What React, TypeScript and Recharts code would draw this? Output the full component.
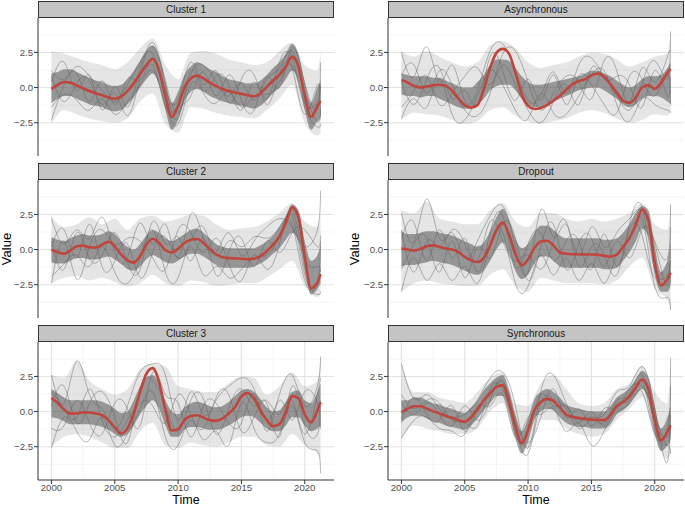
import {
  Area,
  CartesianGrid,
  ComposedChart,
  Line,
  XAxis,
  YAxis,
} from "recharts";

// sample times
const HALF_YEARS = [
  2000, 2000.5, 2001, 2001.5, 2002, 2002.5, 2003, 2003.5, 2004, 2004.5, 2005, 2005.5,
  2006, 2006.5, 2007, 2007.5, 2008, 2008.5, 2009, 2009.5, 2010, 2010.5, 2011, 2011.5,
  2012, 2012.5, 2013, 2013.5, 2014, 2014.5, 2015, 2015.5, 2016, 2016.5, 2017, 2017.5,
  2018, 2018.5, 2019, 2019.5, 2020, 2020.5, 2021, 2021.25,
];
const YEARS = [
  2000, 2001, 2002, 2003, 2004, 2005, 2006, 2007, 2008, 2009, 2010, 2011, 2012, 2013,
  2014, 2015, 2016, 2017, 2018, 2019, 2020, 2021, 2021.25,
];

const X_TICKS = [2000, 2005, 2010, 2015, 2020];
const X_MINOR = [2002.5, 2007.5, 2012.5, 2017.5];
const Y_TICKS = [-2.5, 0, 2.5];
const Y_MINOR = [-3.75, -1.25, 1.25, 3.75];

// Cluster 1
const c1Mean = [-0.1, 0.2, 0.4, 0.35, 0.15, -0.05, -0.25, -0.4, -0.55, -0.7, -0.8, -0.65, -0.25, 0.3, 0.95, 1.6, 2.05, 1.2, -0.6, -2.1, -1.3, 0.0, 0.65, 0.85, 0.65, 0.35, 0.1, -0.1, -0.25, -0.35, -0.45, -0.55, -0.62, -0.4, 0.05, 0.5, 0.9, 1.5, 2.2, 1.5, -0.6, -2.1, -1.3, -0.95];
const c1CoreLo = [-1.1, -0.8, -0.6, -0.6, -0.8, -1.0, -1.2, -1.3, -1.4, -1.6, -1.7, -1.6, -1.2, -0.7, 0.0, 0.6, 1.0, 0.2, -1.6, -3.0, -2.3, -1.0, -0.3, -0.1, -0.3, -0.6, -0.8, -1.0, -1.1, -1.2, -1.3, -1.4, -1.5, -1.3, -0.9, -0.4, 0.0, 0.6, 1.2, 0.5, -1.6, -3.0, -2.4, -2.2];
const c1CoreHi = [1.0, 1.1, 1.3, 1.3, 1.1, 0.9, 0.7, 0.5, 0.4, 0.2, 0.1, 0.2, 0.6, 1.2, 1.9, 2.6, 3.0, 2.2, 0.4, -1.1, -0.3, 0.9, 1.5, 1.8, 1.6, 1.3, 1.1, 0.8, 0.6, 0.5, 0.4, 0.3, 0.3, 0.5, 0.9, 1.4, 1.8, 2.4, 3.1, 2.4, 0.4, -1.1, 0.0, 0.5];
const c1SpreadLo = [-2.6, -1.6, -1.9, -2.2, -2.4, -2.5, -2.2, -1.0, -0.4, -2.6, -3.2, -1.4, -1.5, -1.8, -2.0, -2.1, -2.2, -1.6, -0.8, 0.2, -2.5, -3.4, -3.3];
const c1SpreadHi = [2.6, 2.4, 2.1, 1.8, 1.6, 1.3, 1.8, 2.8, 3.5, 1.6, 0.6, 2.5, 2.6, 2.4, 2.0, 1.8, 1.6, 1.8, 2.6, 3.2, 1.6, 1.2, 2.6];
const c1Traces = [
  [1.2, 0.6, 1.5, 0.8, -0.2, -1.0, 0.2, 1.8, 2.9, 0.5, -1.8, 0.9, 1.6, 0.4, -0.6, 0.3, -0.9, 0.6, 1.4, 2.6, -0.3, -2.4, -1.5],
  [-1.4, -0.5, -0.9, -1.6, -0.8, -1.9, -1.0, 0.2, 1.2, -1.2, -2.6, 0.2, -0.4, -1.1, -0.3, -1.4, -0.6, -0.5, 0.4, 1.6, -1.4, -2.8, -2.6],
  [0.4, 1.8, -0.2, 0.9, -1.6, 0.1, -1.4, 1.4, 2.4, -0.2, -0.9, 1.8, 0.2, 1.2, -1.1, 0.6, 0.9, -0.8, 1.8, 2.1, -1.1, -1.0, 0.2],
  [-2.3, 0.2, 1.0, -1.0, 0.5, -1.2, 0.6, 0.5, 1.6, -1.4, -1.4, -0.6, 1.1, -0.6, 0.9, -0.9, -1.6, 0.8, 0.0, 2.8, 0.3, -1.6, 1.8],
  [0.8, -1.0, 0.3, 0.5, -1.2, -0.4, -2.0, 0.8, 3.2, 0.2, -2.2, 1.2, -0.2, 0.8, 0.2, -1.6, 0.4, -1.2, 1.0, 1.4, -1.9, 0.2, -2.0],
];

// Asynchronous
const asMean = [0.55, 0.35, 0.12, 0.0, 0.07, 0.17, 0.2, 0.12, -0.23, -0.78, -1.25, -1.43, -1.25, -0.12, 1.4, 2.47, 2.75, 2.4, 1.06, -0.47, -1.3, -1.53, -1.46, -1.25, -0.94, -0.59, -0.16, 0.23, 0.47, 0.59, 0.87, 1.0, 0.78, 0.24, -0.35, -0.94, -1.1, -0.7, 0.0, 0.17, -0.1, 0.35, 1.06, 1.34];
const asCoreLo = [-0.5, -0.6, -0.6, -0.7, -0.6, -0.6, -0.8, -1.0, -1.2, -1.4, -1.5, -1.5, -1.2, -0.8, -0.2, 0.1, 0.2, 0.2, -0.2, -0.8, -1.2, -1.4, -1.4, -1.2, -1.0, -0.8, -0.6, -0.4, -0.2, -0.1, 0.0, 0.0, -0.2, -0.5, -0.8, -1.2, -1.4, -1.2, -0.8, -0.6, -0.6, -0.7, -1.0, -1.2];
const asCoreHi = [1.0, 0.9, 0.8, 0.8, 0.8, 0.7, 0.7, 0.5, 0.3, 0.1, 0.0, 0.0, 0.4, 0.9, 1.6, 2.0, 2.0, 1.9, 1.4, 0.8, 0.4, 0.2, 0.2, 0.3, 0.4, 0.5, 0.6, 0.7, 0.8, 1.0, 1.2, 1.2, 1.0, 0.8, 0.5, 0.2, 0.0, 0.2, 0.6, 0.8, 0.8, 0.9, 1.4, 1.8];
const asSpreadLo = [-2.3, -1.8, -1.9, -2.0, -2.3, -2.6, -2.4, -1.6, -1.4, -2.0, -2.4, -2.6, -2.4, -2.2, -1.8, -1.6, -1.8, -2.2, -2.5, -2.3, -1.9, -2.0, -1.8];
const asSpreadHi = [2.6, 2.2, 2.6, 2.2, 1.8, 1.5, 1.8, 3.0, 3.3, 2.8, 1.8, 1.4, 1.6, 1.8, 2.2, 2.5, 2.4, 2.0, 1.5, 1.8, 2.2, 2.4, 4.0];
const asTraces = [
  [2.5, 0.8, 2.9, 0.4, 1.6, -0.9, -0.2, 2.6, 3.1, 1.2, -0.9, -0.6, 1.1, -0.4, 1.6, 2.1, 0.8, -0.6, -1.6, 0.3, 1.9, 0.6, 4.0],
  [-2.2, -0.8, -1.4, 0.6, -1.9, -2.3, -0.6, 1.2, 0.2, -1.6, -2.2, -0.4, -1.8, -1.9, -0.6, 0.9, 1.2, -1.2, -2.4, -0.8, -1.2, -1.6, -1.8],
  [0.9, 1.6, -0.4, 1.2, 0.2, -1.6, -2.0, -0.4, 2.4, 2.6, 0.4, -1.6, -0.4, 0.8, 0.4, -0.8, 1.9, 1.2, -1.0, 1.4, 0.4, 2.2, 2.6],
  [-1.4, -0.2, 0.8, -1.2, -0.4, 0.8, 1.4, 0.2, 1.6, 0.2, -1.6, -2.5, -1.0, 0.2, -1.2, 1.4, 0.6, 0.8, 0.2, -1.4, 1.2, -0.6, 0.8],
  [0.4, -1.2, 0.6, 1.4, -0.8, -0.2, -1.2, 2.2, 1.2, -0.9, 0.6, -0.9, 0.9, -1.2, 0.8, 0.2, -1.2, -1.8, 0.8, 0.6, -0.6, 0.9, -1.2],
];

// Cluster 2
const c2Mean = [0.0, -0.19, -0.3, -0.05, 0.23, 0.28, 0.16, 0.14, 0.35, 0.56, 0.23, -0.35, -0.77, -0.93, -0.47, 0.35, 0.77, 0.47, -0.05, -0.2, 0.05, 0.47, 0.7, 0.75, 0.47, 0.05, -0.35, -0.54, -0.61, -0.63, -0.65, -0.68, -0.65, -0.47, -0.12, 0.35, 0.93, 1.87, 3.0, 2.3, -0.5, -2.75, -2.34, -1.75];
const c2CoreLo = [-0.9, -1.0, -1.0, -0.8, -0.6, -0.6, -0.7, -0.7, -0.6, -0.5, -0.7, -1.0, -1.4, -1.5, -1.2, -0.7, -0.4, -0.6, -0.9, -1.0, -0.8, -0.5, -0.3, -0.3, -0.5, -0.8, -1.1, -1.3, -1.3, -1.3, -1.3, -1.3, -1.2, -1.0, -0.7, -0.3, 0.1, 0.7, 1.2, 0.6, -1.6, -3.2, -2.8, -2.4];
const c2CoreHi = [0.9, 0.7, 0.6, 0.8, 1.0, 1.1, 1.0, 1.0, 1.1, 1.3, 1.1, 0.6, 0.2, 0.0, 0.4, 1.0, 1.4, 1.2, 0.8, 0.6, 0.8, 1.1, 1.4, 1.5, 1.2, 0.8, 0.4, 0.2, 0.1, 0.1, 0.1, 0.1, 0.1, 0.3, 0.6, 1.0, 1.6, 2.4, 3.2, 2.8, 0.6, -0.8, -0.4, 0.4];
const c2SpreadLo = [-2.4, -2.0, -1.9, -2.2, -2.0, -2.3, -2.6, -2.4, -1.8, -2.4, -2.6, -2.2, -2.3, -2.6, -2.5, -2.4, -2.4, -2.0, -1.4, -0.8, -2.6, -3.4, -3.2];
const c2SpreadHi = [2.4, 1.6, 1.8, 2.3, 1.8, 2.2, 1.4, 2.2, 2.4, 2.0, 2.2, 2.5, 2.4, 1.8, 1.4, 1.5, 1.6, 2.0, 2.6, 3.3, 2.0, 1.6, 2.4];
const c2Traces = [
  [2.2, 0.4, 1.4, 0.8, 2.3, -0.2, -0.6, 1.9, 0.4, 1.8, -0.6, 2.5, 0.8, -0.2, 1.2, -0.4, 0.6, 1.6, 2.2, 1.6, 0.2, 1.4, 4.2],
  [-1.9, -1.0, -0.4, -1.2, 0.2, -1.6, -2.4, -0.6, 1.4, -1.6, -2.0, 0.2, -1.8, -1.2, -2.0, -1.4, -0.6, -0.4, 1.0, 2.4, -1.8, -3.2, -3.0],
  [0.6, -1.4, 1.2, -0.6, -0.4, 1.2, -0.9, -1.4, 2.0, 0.4, 0.9, -0.8, 0.8, -1.8, -0.2, 0.8, -1.2, 0.6, -0.2, 1.2, 1.4, 0.2, 1.0],
  [-2.4, 0.6, -2.1, 0.2, 1.4, 0.4, 0.8, 0.6, -0.6, -1.4, 1.4, 1.2, -0.2, 0.8, -1.0, -2.2, -0.4, -1.4, 0.4, 2.8, -0.6, -1.2, -1.6],
  [0.2, 1.4, -0.6, 1.8, -1.2, -0.8, 0.4, -2.0, -0.2, 0.9, -0.6, 0.6, 1.6, -0.4, 0.6, 0.2, 0.9, 0.8, 1.6, 1.8, -2.2, -2.4, 0.6],
];

// Dropout
const drMean = [0.07, 0.0, -0.07, 0.05, 0.23, 0.3, 0.19, 0.07, 0.0, -0.19, -0.51, -0.77, -0.89, -0.58, 0.28, 1.36, 1.92, 1.05, -0.35, -1.12, -0.7, 0.12, 0.58, 0.63, 0.28, -0.19, -0.3, -0.33, -0.33, -0.35, -0.35, -0.37, -0.44, -0.51, -0.35, 0.19, 0.82, 1.75, 2.85, 2.1, -0.93, -2.55, -2.1, -1.64];
const drCoreLo = [-1.2, -1.1, -1.1, -1.0, -0.9, -0.8, -0.9, -1.0, -1.1, -1.3, -1.5, -1.7, -1.8, -1.5, -0.8, 0.0, 0.5, -0.3, -1.5, -2.1, -1.8, -1.0, -0.5, -0.5, -0.8, -1.2, -1.3, -1.3, -1.3, -1.3, -1.3, -1.3, -1.4, -1.4, -1.3, -0.8, -0.2, 0.6, 1.5, 0.9, -1.8, -3.0, -3.0, -2.6];
const drCoreHi = [1.3, 1.1, 1.1, 1.2, 1.3, 1.3, 1.2, 1.1, 1.0, 0.8, 0.6, 0.4, 0.2, 0.5, 1.3, 2.3, 2.9, 2.1, 0.8, 0.1, 0.4, 1.2, 1.7, 1.7, 1.4, 1.0, 0.8, 0.8, 0.8, 0.8, 0.8, 0.8, 0.7, 0.7, 0.8, 1.2, 1.8, 2.6, 3.1, 2.8, 0.2, -1.6, -0.8, 0.6];
const drSpreadLo = [-3.0, -2.4, -2.2, -2.4, -2.5, -2.6, -2.6, -1.8, -1.4, -2.6, -3.0, -2.0, -2.2, -2.4, -2.4, -2.4, -2.5, -2.2, -1.2, -0.6, -2.8, -3.6, -4.2];
const drSpreadHi = [2.8, 2.6, 3.4, 2.2, 2.0, 1.8, 1.8, 2.8, 3.3, 2.0, 1.6, 2.6, 2.6, 2.2, 2.0, 2.2, 2.0, 2.2, 2.6, 3.3, 1.8, 1.4, 3.2];
const drTraces = [
  [2.6, 0.6, 3.6, 0.8, 1.2, -0.6, 0.6, 2.4, 3.1, 0.2, -1.6, 2.8, 0.9, 1.8, -0.4, 1.6, 0.2, 1.2, 2.2, 2.8, 0.6, -0.6, 3.2],
  [-3.0, -0.6, -2.2, -1.0, -2.2, -1.2, -2.4, 0.4, 1.2, -2.4, -2.6, -0.4, -1.8, -0.6, -2.2, -1.0, -2.4, -0.4, 0.8, 2.2, -2.6, -3.4, -4.3],
  [0.8, 1.9, -0.8, 1.4, -0.6, 0.8, -1.6, 1.2, 2.4, -1.2, 0.4, 1.2, -0.8, 0.6, 0.6, -1.4, 1.1, -1.2, 1.8, 3.0, -1.4, -1.8, -0.8],
  [-1.4, 0.4, 0.8, -1.6, 0.6, -2.0, 0.2, -0.6, 1.8, 0.8, -2.2, 0.2, 1.8, -1.4, 0.4, 0.8, -1.2, 0.6, -0.6, 1.4, 0.4, -2.6, 1.6],
  [1.4, -1.6, 0.6, 0.2, 1.4, 0.4, -0.8, 2.0, 0.6, -0.8, -0.4, -1.4, 0.6, 2.0, -1.2, 0.2, -0.4, -1.8, 1.4, 1.0, -2.0, -1.0, -2.4],
];

// Cluster 3
const c3Mean = [0.97, 0.61, 0.14, -0.15, -0.14, -0.07, -0.07, -0.14, -0.26, -0.61, -1.13, -1.56, -1.2, -0.14, 1.39, 2.69, 3.09, 2.1, 0.09, -1.35, -1.25, -0.61, -0.31, -0.26, -0.42, -0.61, -0.66, -0.5, -0.14, 0.33, 1.08, 1.32, 0.92, 0.09, -0.61, -1.04, -0.9, -0.02, 1.1, 0.95, -0.2, -0.78, 0.09, 0.68];
const c3CoreLo = [-0.4, -0.5, -0.7, -0.9, -0.9, -0.9, -0.9, -1.0, -1.1, -1.3, -1.6, -1.8, -1.6, -1.0, -0.2, 0.4, 0.8, 0.2, -1.0, -1.8, -1.8, -1.3, -1.1, -1.1, -1.2, -1.3, -1.3, -1.2, -1.0, -0.7, -0.4, -0.3, -0.4, -0.8, -1.2, -1.4, -1.4, -1.0, -0.4, -0.4, -1.0, -1.4, -1.2, -1.0];
const c3CoreHi = [1.6, 1.3, 1.0, 0.8, 0.8, 0.8, 0.8, 0.8, 0.7, 0.5, 0.2, -0.1, 0.0, 0.8, 1.8, 2.4, 2.6, 2.0, 0.8, 0.0, -0.2, 0.3, 0.6, 0.7, 0.6, 0.4, 0.3, 0.4, 0.7, 1.1, 1.5, 1.6, 1.4, 0.9, 0.3, 0.0, 0.1, 0.7, 1.4, 1.5, 0.8, 0.6, 1.4, 2.0];
const c3SpreadLo = [-2.5, -1.8, -1.6, -1.8, -2.2, -2.6, -2.6, -1.4, -0.8, -2.4, -2.6, -2.2, -2.4, -2.5, -2.2, -1.8, -1.8, -2.4, -2.5, -1.6, -2.4, -3.0, -3.4];
const c3SpreadHi = [2.6, 2.4, 3.6, 2.2, 1.6, 1.2, 1.6, 3.0, 3.4, 3.2, 1.8, 1.6, 1.4, 1.4, 2.0, 2.5, 2.4, 1.2, 1.8, 2.8, 1.8, 2.2, 3.8];
const c3Traces = [
  [2.6, 0.6, 3.6, 1.2, 0.2, -1.2, 0.4, 2.8, 3.4, 2.6, -0.6, 1.4, -0.2, 0.8, 1.8, 2.4, 1.6, -0.6, 1.2, 2.6, 0.4, 1.8, 3.9],
  [-2.6, -0.4, -1.4, -2.0, -0.4, -2.4, -1.6, 0.2, 1.4, -1.8, -2.4, -0.6, -2.0, -1.4, -2.4, 0.6, -1.2, -2.2, -1.6, 0.4, -2.2, -2.8, -4.4],
  [0.4, 1.8, -0.8, 0.6, 1.4, -0.4, -2.2, 1.6, 2.2, 0.4, -1.4, 0.8, 0.9, -1.6, 0.2, 1.6, 0.4, 0.6, -1.8, 1.8, -1.0, -1.6, 0.8],
  [-1.2, -1.0, 0.8, -0.8, -1.6, 0.6, 0.2, -1.0, 2.8, 1.2, 0.6, -1.8, 0.4, 0.6, -0.8, -0.8, 1.2, -1.4, 0.8, -0.6, 1.4, 0.6, -1.2],
  [1.4, 0.2, -0.4, 1.6, -0.6, -1.8, -0.6, 0.6, 0.4, -0.8, 1.2, -0.2, -1.2, 1.0, 1.2, -1.4, -0.4, 0.8, -0.2, 0.8, -1.6, 1.2, 2.4],
];

// Synchronous
const syMean = [-0.07, 0.21, 0.38, 0.38, 0.21, 0.02, -0.14, -0.31, -0.45, -0.61, -0.73, -0.38, 0.14, 0.8, 1.32, 1.75, 1.88, 0.68, -1.08, -2.26, -1.32, 0.09, 0.68, 0.9, 0.75, 0.28, -0.21, -0.38, -0.45, -0.52, -0.57, -0.59, -0.61, -0.26, 0.38, 0.68, 1.08, 1.7, 2.28, 1.63, -0.61, -2.05, -1.44, -0.97];
const syCoreLo = [-0.8, -0.4, -0.3, -0.3, -0.5, -0.7, -0.8, -1.0, -1.1, -1.2, -1.3, -1.0, -0.5, 0.1, 0.6, 1.1, 1.1, -0.1, -1.9, -3.0, -2.1, -0.6, 0.0, 0.2, 0.1, -0.4, -0.8, -1.0, -1.1, -1.1, -1.2, -1.2, -1.2, -0.9, -0.2, 0.1, 0.5, 1.1, 1.6, 0.8, -1.5, -2.8, -2.4, -2.0];
const syCoreHi = [0.8, 0.8, 1.0, 1.0, 0.8, 0.6, 0.5, 0.3, 0.2, 0.0, -0.1, 0.3, 0.8, 1.5, 2.0, 2.4, 2.6, 1.5, -0.2, -1.4, -0.5, 0.9, 1.4, 1.6, 1.4, 1.0, 0.5, 0.3, 0.2, 0.1, 0.0, 0.0, 0.0, 0.4, 1.0, 1.3, 1.7, 2.3, 2.9, 2.4, 0.4, -1.2, -0.4, 0.4];
const sySpreadLo = [-1.9, -1.0, -1.2, -1.4, -1.6, -1.6, -1.2, 0.0, 0.6, -2.0, -2.6, -0.6, -0.6, -1.2, -1.6, -1.8, -1.6, -0.6, 0.2, 1.0, -1.8, -3.4, -3.0];
const sySpreadHi = [3.4, 1.4, 1.4, 1.0, 0.8, 0.6, 1.4, 2.4, 2.8, 0.6, 0.4, 2.0, 2.6, 1.6, 0.6, 0.4, 0.6, 1.6, 2.0, 3.3, 1.4, 0.6, 3.8];
const syTraces = [
  [3.4, 0.9, 1.2, 0.2, -0.4, -0.2, 0.8, 2.4, 2.8, 0.4, -2.6, 1.4, 2.6, 0.6, -0.6, -0.4, -0.2, 1.4, 1.8, 3.2, 0.2, -3.6, 3.8],
  [-1.9, -0.6, -0.4, -1.2, -1.4, -1.6, 0.4, 0.4, 1.2, -1.8, -0.4, -0.2, 0.2, -1.4, -0.8, -2.4, -1.4, 0.0, 0.6, 1.4, -1.6, -2.4, -3.0],
  [1.2, 0.2, 0.8, 0.6, -0.6, -0.8, -1.0, 1.6, 1.6, -1.2, -3.0, 0.6, 0.9, 0.2, -1.2, -0.6, -0.8, 0.8, 1.2, 2.6, -0.8, -1.8, -1.2],
  [-0.6, 1.0, -0.2, -0.6, 0.4, -1.4, 0.2, 1.2, 2.2, -0.6, -2.2, -0.4, 1.6, -0.4, 0.2, -1.0, 0.2, 0.2, 1.6, 1.8, -0.2, -2.4, -0.2],
  [0.6, -0.2, 0.6, -0.2, -1.0, 0.4, -0.6, 0.8, 2.0, -1.6, -1.4, 1.2, 0.4, 0.4, -0.8, 0.0, -1.0, 0.6, 0.8, 2.2, -1.4, -1.2, 1.8],
];

const FONT = '"Liberation Sans", Arial, Helvetica, sans-serif';
const RED = "#C0453D";
const X_DOMAIN: [number, number] = [1998.94, 2022.31];
const Y_DOMAIN: [number, number] = [-4.87, 4.95];

const PLOT_W = 296;
const PLOT_H = 138;
const AXIS_W = 38;
const STRIP_H = 17;

interface PanelSpec {
  title: string;
  col: number;
  row: number;
  mean: number[];
  coreLo: number[];
  coreHi: number[];
  spreadLo: number[];
  spreadHi: number[];
  traces: number[][];
}

const PANELS: PanelSpec[] = [
  { title: "Cluster 1", col: 0, row: 0, mean: c1Mean, coreLo: c1CoreLo, coreHi: c1CoreHi, spreadLo: c1SpreadLo, spreadHi: c1SpreadHi, traces: c1Traces },
  { title: "Cluster 2", col: 0, row: 1, mean: c2Mean, coreLo: c2CoreLo, coreHi: c2CoreHi, spreadLo: c2SpreadLo, spreadHi: c2SpreadHi, traces: c2Traces },
  { title: "Cluster 3", col: 0, row: 2, mean: c3Mean, coreLo: c3CoreLo, coreHi: c3CoreHi, spreadLo: c3SpreadLo, spreadHi: c3SpreadHi, traces: c3Traces },
  { title: "Asynchronous", col: 1, row: 0, mean: asMean, coreLo: asCoreLo, coreHi: asCoreHi, spreadLo: asSpreadLo, spreadHi: asSpreadHi, traces: asTraces },
  { title: "Dropout", col: 1, row: 1, mean: drMean, coreLo: drCoreLo, coreHi: drCoreHi, spreadLo: drSpreadLo, spreadHi: drSpreadHi, traces: drTraces },
  { title: "Synchronous", col: 1, row: 2, mean: syMean, coreLo: syCoreLo, coreHi: syCoreHi, spreadLo: sySpreadLo, spreadHi: sySpreadHi, traces: syTraces },
];

const COL_LEFT = [0, 350];
const ROW_TOP = [1, 163, 325];

const fmtY = (v: number) => v.toFixed(1).replace("-", "\u2212");

const Panel = ({ spec }: { spec: PanelSpec }) => {
  const bottom = spec.row === 2;
  const halfRows = HALF_YEARS.map((t, i) => ({
    t,
    mean: spec.mean[i],
    core: [spec.coreLo[i], spec.coreHi[i]],
  }));
  const yearRows = YEARS.map((t, i) => {
    const row: Record<string, number | number[]> = {
      t,
      spread: [spec.spreadLo[i], spec.spreadHi[i]],
    };
    spec.traces.forEach((tr, k) => {
      row[`g${k}`] = tr[i];
    });
    return row;
  });
  const left = COL_LEFT[spec.col];
  const top = ROW_TOP[spec.row];
  const xh = bottom ? 22 : 0;

  return (
    <>
      <div
        style={{
          position: "absolute",
          left: left + AXIS_W,
          top,
          width: PLOT_W,
          height: STRIP_H,
          boxSizing: "border-box",
          border: "1px solid #333333",
          background: "#C4C4C4",
          color: "#1A1A1A",
          fontSize: 10,
          fontWeight: 400,
          lineHeight: `${STRIP_H - 2}px`,
          textAlign: "center",
        }}
      >
        {spec.title}
      </div>
      <div style={{ position: "absolute", left, top: top + STRIP_H }}>
        <ComposedChart
          width={AXIS_W + PLOT_W}
          height={PLOT_H + xh}
          margin={{ top: 0, right: 0, bottom: 0, left: 0 }}
        >
          <CartesianGrid
            horizontalValues={Y_MINOR}
            verticalValues={X_MINOR}
            stroke="#EFEFEF"
            strokeWidth={0.6}
          />
          <CartesianGrid
            horizontalValues={Y_TICKS}
            verticalValues={X_TICKS}
            stroke="#E2E2E2"
            strokeWidth={1.1}
          />
          <XAxis
            type="number"
            dataKey="t"
            domain={X_DOMAIN}
            ticks={X_TICKS}
            allowDataOverflow
            height={xh}
            axisLine={{ stroke: "#333333", strokeWidth: 1 }}
            tick={bottom ? { fill: "#4D4D4D", fontSize: 9.6, fontFamily: FONT } : false}
            tickLine={bottom ? { stroke: "#333333" } : false}
            tickSize={4}
            tickMargin={0}
          />
          <YAxis
            type="number"
            domain={Y_DOMAIN}
            ticks={Y_TICKS}
            allowDataOverflow
            width={AXIS_W}
            axisLine={{ stroke: "#333333", strokeWidth: 1 }}
            tick={{ fill: "#4D4D4D", fontSize: 9.6, fontFamily: FONT }}
            tickLine={{ stroke: "#333333" }}
            tickSize={4}
            tickMargin={1}
            tickFormatter={fmtY}
          />
          <Area
            data={yearRows}
            dataKey="spread"
            type="monotone"
            stroke="none"
            fill="#8A8A8A"
            fillOpacity={0.22}
            isAnimationActive={false}
          />
          <Area
            data={halfRows}
            dataKey="core"
            type="monotone"
            stroke="none"
            fill="#555555"
            fillOpacity={0.55}
            isAnimationActive={false}
          />
          {spec.traces.map((_, k) => (
            <Line
              key={`g${k}`}
              data={yearRows}
              dataKey={`g${k}`}
              type="natural"
              stroke="#5F5F5F"
              strokeOpacity={0.45}
              strokeWidth={1}
              dot={false}
              isAnimationActive={false}
            />
          ))}
          <Line
            data={halfRows}
            dataKey="mean"
            type="monotone"
            stroke={RED}
            strokeWidth={2.6}
            dot={false}
            isAnimationActive={false}
          />
        </ComposedChart>
      </div>
    </>
  );
};

const axisTitle = {
  position: "absolute" as const,
  fontSize: 12.5,
  lineHeight: "12px",
  color: "#000000",
  whiteSpace: "nowrap" as const,
};

export default function App() {
  return (
    <div
      style={{
        position: "absolute",
        left: 0,
        top: 0,
        width: 685,
        height: 506,
        background: "#FFFFFF",
        fontFamily: FONT,
        overflow: "hidden",
      }}
    >
      {PANELS.map((p) => (
        <Panel key={p.title} spec={p} />
      ))}
      {[7, 355].map((x) => (
        <div
          key={`v${x}`}
          style={{
            ...axisTitle,
            fontSize: 13,
            left: x,
            top: 249,
            transform: "translate(-50%, -50%) rotate(-90deg)",
          }}
        >
          Value
        </div>
      ))}
      {[186, 536].map((x) => (
        <div
          key={`t${x}`}
          style={{
            ...axisTitle,
            left: x,
            top: 499.5,
            transform: "translate(-50%, -50%)",
          }}
        >
          Time
        </div>
      ))}
    </div>
  );
}
